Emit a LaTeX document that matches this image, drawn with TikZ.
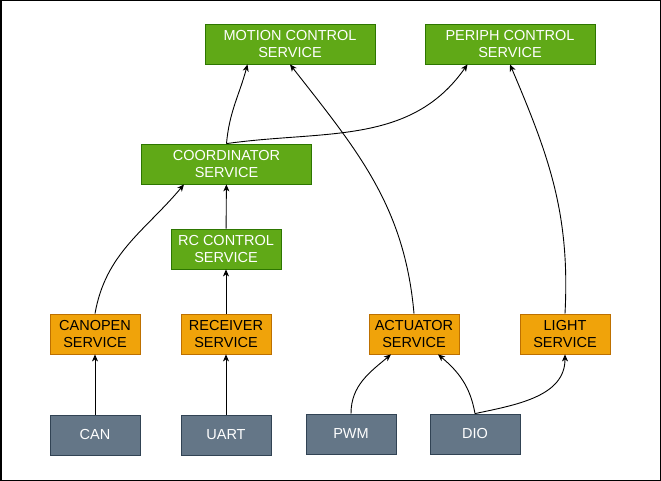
\documentclass[tikz,border=0pt]{standalone}
\usepackage{fontspec}
\setmainfont{Liberation Sans}
\usetikzlibrary{arrows.meta}
\definecolor{svcgreen}{HTML}{60A917}
\definecolor{svcgreenline}{HTML}{2D7600}
\definecolor{drvorange}{HTML}{F0A30A}
\definecolor{drvorangeline}{HTML}{BD7000}
\definecolor{hwslate}{HTML}{647687}
\definecolor{hwslateline}{HTML}{314354}

\begin{document}
\begin{tikzpicture}[x=1pt, y=1pt,
  box/.style={draw, line width=0.8pt, align=center, inner sep=0pt,
              minimum height=40pt, font=\fontsize{14.5}{17.5}\selectfont},
  service/.style={box, draw=svcgreenline, fill=svcgreen, text=white},
  driver/.style={box, draw=drvorangeline, fill=drvorange, text=black,
                 minimum width=90pt},
  hardware/.style={box, draw=hwslateline, fill=hwslate, text=white,
                   minimum width=90pt},
  link/.style={-{Stealth[length=7pt, width=6pt, inset=2pt]}, line width=0.9pt},
]
  \useasboundingbox (0,0) rectangle (661,-481);
  \draw[line width=1.5pt] (0.75,-0.75) rectangle (660.25,-480.25);

  % services
  \node[service, minimum width=170pt] (motion) at (290,-44) {MOTION CONTROL\\SERVICE};
  \node[service, minimum width=170pt] (periph) at (510,-44) {PERIPH CONTROL\\SERVICE};
  \node[service, minimum width=170pt] (coord) at (226.5,-164) {COORDINATOR\\SERVICE};
  \node[service, minimum width=110pt] (rc) at (226,-249) {RC CONTROL\\SERVICE};

  % drivers
  \node[driver] (canopen) at (95,-334) {CANOPEN\\SERVICE};
  \node[driver] (receiver) at (226,-334) {RECEIVER\\SERVICE};
  \node[driver] (actuator) at (414,-334) {ACTUATOR\\SERVICE};
  \node[driver] (light) at (565,-334) {LIGHT\\SERVICE};

  % hardware
  \node[hardware] (can) at (95,-435) {CAN};
  \node[hardware] (uart) at (226,-435) {UART};
  \node[hardware] (pwm) at (351,-434) {PWM};
  \node[hardware] (dio) at (475,-434) {DIO};

  % straight links
  \draw[link] (can) -- (canopen);
  \draw[link] (uart) -- (receiver);
  \draw[link] (receiver) -- (rc);
  \draw[link] (rc) -- (coord);

  % curved links
  \draw[link] (canopen.north) to[out=80, in=230] ([xshift=-42.5pt]coord.south);
  \draw[link] (coord.north) to[out=85, in=255] ([xshift=-42.5pt]motion.south);
  \draw[link] (coord.north) to[out=8, in=235] ([xshift=-42.5pt]periph.south);
  \draw[link] (actuator.north) to[out=95, in=-52] (motion.south);
  \draw[link] (light.north) to[out=87, in=-67] (periph.south);
  \draw[link] (pwm.north) to[out=90, in=220] ([xshift=-23pt]actuator.south);
  \draw[link] (dio.north) to[out=100, in=-40] ([xshift=24pt]actuator.south);
  \draw[link] (dio.north) to[out=12, in=-90] (light.south);
\end{tikzpicture}
\end{document}
